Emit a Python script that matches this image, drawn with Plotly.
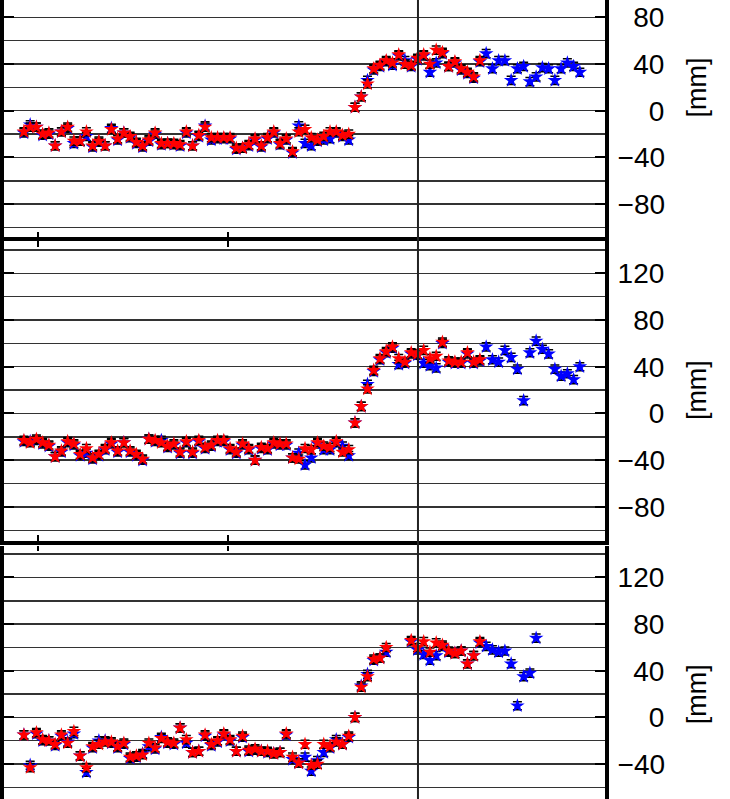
import plotly.graph_objects as go

# ---------------- data ----------------
dates = [
    "2016-12-05", "2016-12-17", "2016-12-29", "2017-01-10", "2017-01-22", "2017-02-03",
    "2017-02-15", "2017-02-27", "2017-03-11", "2017-03-23", "2017-04-04", "2017-04-16",
    "2017-04-28", "2017-05-10", "2017-05-22", "2017-06-03", "2017-06-15", "2017-06-27",
    "2017-07-09", "2017-07-21", "2017-08-02", "2017-08-14", "2017-08-26", "2017-09-07",
    "2017-09-19", "2017-10-01", "2017-10-13", "2017-10-25", "2017-11-06", "2017-11-18",
    "2017-11-30", "2017-12-12", "2017-12-24", "2018-01-05", "2018-01-17", "2018-01-29",
    "2018-02-10", "2018-02-22", "2018-03-06", "2018-03-18", "2018-03-30", "2018-04-11",
    "2018-04-23", "2018-05-05", "2018-05-17", "2018-05-29", "2018-06-10", "2018-06-22",
    "2018-07-04", "2018-07-16", "2018-07-28", "2018-08-09", "2018-08-21", "2018-09-02",
    "2018-09-14", "2018-09-26", "2018-10-08", "2018-10-20", "2018-11-01", "2018-11-13",
    "2018-11-25", "2018-12-07", "2018-12-19", "2018-12-31", "2019-01-12", "2019-01-24",
    "2019-02-05", "2019-02-17", "2019-03-01", "2019-03-13", "2019-03-25", "2019-04-06",
    "2019-04-18", "2019-04-30", "2019-05-12", "2019-05-24", "2019-06-05", "2019-06-17",
    "2019-06-29", "2019-07-11", "2019-07-23", "2019-08-04", "2019-08-16", "2019-08-28",
    "2019-09-09", "2019-09-21", "2019-10-03", "2019-10-15", "2019-10-27", "2019-11-08",
]

N = None
p1_red = [
    -18, -14, -14, -20, -19, -30, -18, -14, -26, -26,
    -18, -30, -26, -30, -16, -24, -19, -22, -27, -30,
    -25, -19, -28, -28, -28, -29, -18, -30, -21, -14,
    -23, -23, -23, -23, -32, -32, -29, -24, -30, -23,
    -18, -28, -24, -35, -18, -16, -23, -25, -22, -18,
    -18, -21, -20, 3, 12, 23, 36, 39, 43, 41,
    48, 40, 39, 45, 48, 40, 52, 50, 38, 42,
    36, 33, 29, 43, N, N, N, N, N, N,
    N, N, N, N, N, N, N, N, N, N,
]
p1_blue = [
    -19, -12, -14, -21, -20, -30, -18, -15, -28, -26,
    -22, -31, -27, -30, -15, -25, -19, -23, -28, -31,
    -26, -20, -29, -28, -29, -30, -19, -30, -22, -13,
    -25, -24, -24, -24, -33, -32, -30, -25, -31, -24,
    -19, -29, -25, -36, -13, -28, -30, -26, -25, -24,
    -19, -22, -25, 3, 12, 26, 35, 38, 42, 39,
    47, 43, 38, 44, 47, 33, 41, 49, 38, 41,
    35, 32, 28, 42, 49, 36, 43, 43, 26, 36,
    38, 25, 29, 37, 36, 26, 36, 41, 38, 33,
]
p2_red = [
    -23, -25, -22, -25, -27, -37, -32, -24, -26, -35,
    -30, -38, -35, -30, -25, -32, -25, -32, -35, -39,
    -22, -23, -25, -28, -26, -33, -24, -33, -23, -29,
    -27, -23, -23, -30, -33, -26, -30, -40, -29, -30,
    -25, -26, -26, -38, -39, -30, -31, -25, -28, -29,
    -24, -33, -31, -8, 6, 21, 37, 47, 53, 57,
    47, 44, 52, 51, 54, 47, 49, 61, 45, 44,
    44, 52, 44, 46, N, N, N, N, N, N,
    N, N, N, N, N, N, N, N, N, N,
]
p2_blue = [
    -24, -24, -23, -26, -28, -37, -33, -25, -27, -36,
    -34, -39, -36, -31, -26, -33, -25, -33, -36, -40,
    -22, -24, -23, -29, -27, -34, -25, -34, -24, -30,
    -28, -24, -24, -31, -34, -27, -31, -40, -30, -31,
    -26, -27, -27, -38, -34, -44, -38, -26, -31, -31,
    -25, -28, -36, -8, 6, 25, 36, 46, 52, 56,
    42, 43, 51, 50, 43, 41, 39, 60, 44, 43,
    43, 51, 43, 45, 57, 46, 44, 54, 48, 38,
    11, 52, 62, 55, 51, 38, 32, 34, 29, 40,
]
p3_red = [
    -15, -43, -13, -19, -20, -23, -15, -22, -12, -33,
    -43, -25, -23, -21, -21, -25, -22, -34, -33, -32,
    -22, -26, -18, -21, -22, -9, -19, -30, -29, -15,
    -23, -20, -14, -19, -29, -16, -28, -27, -29, -29,
    -31, -30, -14, -34, -39, -23, -41, -40, -23, -25,
    -21, -23, -16, 0, 26, 35, 50, 51, 60, N,
    N, N, 66, 60, 65, 56, 64, 62, 57, 55,
    57, 46, 53, 65, N, N, N, N, N, N,
    N, N, N, N, N, N, N, N, N, N,
]
p3_blue = [
    -15, -41, -14, -20, -20, -24, -16, -21, -14, -33,
    -47, -26, -20, -20, -22, -26, -23, -35, -34, -31,
    -25, -27, -17, -22, -23, -9, -22, -30, -29, -16,
    -24, -21, -15, -20, -29, -17, -29, -28, -29, -30,
    -31, -30, -15, -36, -39, -34, -46, -37, -30, -26,
    -19, -23, -17, 0, 27, 37, 49, 51, 56, N,
    N, N, 65, 58, 54, 49, 53, 61, 56, 55,
    57, 46, 53, 64, 61, 58, 56, 57, 46, 10,
    35, 38, 68, N, N, N, N, N, N, N,
]

err_mm = 3.5
x_ticks = ["2017-01-01", "2018-01-01", "2019-01-01"]
event_date = "2019-01-01"
x_range = ["2016-10-27 17:00", "2019-12-26 07:00"]

panel_ticks = [
    [-80, -40, 0, 40, 80],
    [-80, -40, 0, 40, 80, 120],
    [-40, 0, 40, 80, 120],
]
panel_ranges = [[-107.9, 94.9], [-109.6, 147.9], [-69.9, 147.4]]
panel_domains = [[0.70375, 1.0], [0.32228, 0.69875], [0.0, 0.31727]]
y_unit = "[mm]"

# ---------------- figure ----------------
FONT = "Liberation Sans, Arial, Helvetica, sans-serif"
fig = go.Figure()

series = [(p1_blue, p1_red), (p2_blue, p2_red), (p3_blue, p3_red)]
for i, (blue, red) in enumerate(series, start=1):
    xa = "x" if i == 1 else f"x{i}"
    ya = "y" if i == 1 else f"y{i}"
    for vals, col in ((blue, "#0000ff"), (red, "#ff0000")):
        fig.add_trace(go.Scatter(
            x=dates, y=vals, mode="markers", xaxis=xa, yaxis=ya,
            marker=dict(symbol="star", size=11, color=col, line=dict(width=0)),
            error_y=dict(type="constant", value=err_mm, color="black",
                         thickness=1.5, width=4.5),
            showlegend=False, hoverinfo="x+y",
        ))


def label(v):
    s = str(abs(v))
    if v < 0:
        s = "\u2212" + s
    return "\u2007" * (3 - len(s)) + s


layout = dict(
    width=730, height=799,
    margin=dict(l=4, r=125, t=0, b=0),
    paper_bgcolor="white", plot_bgcolor="white",
    font=dict(family=FONT, color="black"),
    showlegend=False,
)

for i in range(1, 4):
    xkey = "xaxis" if i == 1 else f"xaxis{i}"
    ykey = "yaxis" if i == 1 else f"yaxis{i}"
    ya_ref = "y" if i == 1 else f"y{i}"
    xa_ref = "x" if i == 1 else f"x{i}"
    xa = dict(
        domain=[0, 1], anchor=ya_ref, type="date", range=x_range,
        tickvals=x_ticks, showticklabels=False, ticks="inside",
        tickwidth=2, tickcolor="black", showgrid=False, zeroline=False,
        fixedrange=True,
    )
    if i == 1:
        xa.update(showline=False, ticklen=5, side="bottom")
    elif i == 2:
        xa.update(showline=True, linewidth=4, linecolor="black",
                  mirror="ticks", ticklen=6, matches="x")
    else:
        xa.update(showline=False, ticklen=5, side="top", matches="x")
    layout[xkey] = xa

    tv = panel_ticks[i - 1]
    layout[ykey] = dict(
        domain=panel_domains[i - 1], anchor=xa_ref, side="right",
        range=panel_ranges[i - 1],
        tickvals=tv, ticktext=[label(v) for v in tv],
        tickfont=dict(size=28, family=FONT, color="black"),
        ticklabelstandoff=3,
        ticks="inside", ticklen=10, tickwidth=2, tickcolor="black",
        showline=True, linewidth=4, linecolor="black", mirror="ticks",
        showgrid=True, gridcolor="#333333", gridwidth=1.4,
        minor=dict(dtick=20, tick0=0, showgrid=True, gridcolor="#333333",
                   gridwidth=1.4, ticks=""),
        zeroline=False, fixedrange=True,
    )

fig.update_layout(**layout)

fig.add_shape(type="line", xref="x", yref="paper",
              x0=event_date, x1=event_date, y0=0, y1=1,
              line=dict(color="#222222", width=2), layer="above")

for i in range(1, 4):
    ya_ref = "y" if i == 1 else f"y{i}"
    fig.add_annotation(text=y_unit, textangle=-90, xref="paper", yref=ya_ref,
                       x=1.1531, y=20, xanchor="center", yanchor="middle",
                       showarrow=False, font=dict(size=27, family=FONT, color="black"))

fig.write_html("out.html", config={"displayModeBar": False, "staticPlot": True},
               post_script="document.body.style.margin='0';document.body.style.overflow='hidden';")
